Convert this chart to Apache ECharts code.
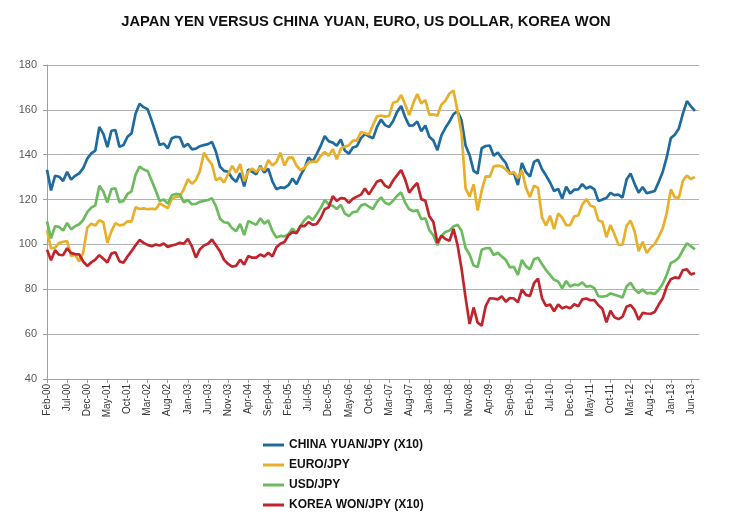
<!DOCTYPE html>
<html><head><meta charset="utf-8">
<script src="https://cdn.jsdelivr.net/npm/echarts@6/dist/echarts.min.js"></script>
<style>html,body{margin:0;padding:0;background:#fff}#c{width:732px;height:531px}</style>
</head><body><div id="c"></div>
<script>
// Month-end values, Feb-2000 .. Jul-2013
const monthNames = ['Jan','Feb','Mar','Apr','May','Jun','Jul','Aug','Sep','Oct','Nov','Dec'];
const categories = [];
for (let y = 2000, m = 1; !(y === 2013 && m === 7); ) {
  categories.push(monthNames[m] + '-' + String(y % 100).padStart(2, '0'));
  m++; if (m === 12) { m = 0; y++; }
}
categories.push('Jul-13');

const seriesNames = ['CHINA YUAN/JPY (X10)', 'EURO/JPY', 'USD/JPY', 'KOREA WON/JPY (X10)'];

const cnyJpy = [
  133.3,124.1,130.6,130.2,128.3,132.4,128.9,130.6,131.7,134.0,138.2,
  140.6,141.8,152.4,149.3,143.4,150.7,151.0,143.5,144.3,148.0,149.5,158.3,
  162.7,161.2,160.3,155.3,149.8,144.3,145.0,142.8,147.3,148.0,147.8,143.5,
  144.9,142.4,142.7,143.8,144.3,144.7,145.7,141.2,134.6,132.8,132.4,129.5,
  127.9,131.8,125.9,133.4,132.4,131.3,135.0,132.1,133.7,128.1,124.6,125.4,
  125.2,126.4,129.4,126.9,130.8,134.0,138.8,136.9,140.3,143.9,148.3,146.0,
  145.4,144.0,146.8,141.9,140.4,143.2,143.8,147.4,149.2,148.2,147.3,152.4,
  155.7,153.2,152.4,155.0,159.1,161.7,156.7,153.0,153.1,154.8,150.5,153.0,
  148.0,146.3,142.0,148.6,152.0,154.8,158.1,159.3,155.3,144.1,139.8,132.8,
  131.6,142.9,143.9,144.1,139.5,141.0,138.5,136.3,131.5,131.8,126.5,136.3,
  132.2,130.2,136.8,137.8,133.5,130.7,127.6,123.8,124.8,120.5,125.7,122.7,
  124.4,124.5,126.9,124.9,125.8,124.6,119.4,120.0,120.7,123.0,122.0,122.2,
  120.9,128.9,131.6,127.0,123.1,125.6,122.8,123.3,123.8,127.9,132.4,139.0,
  147.4,148.9,151.7,158.3,163.9,161.6,159.5
];
const eurJpy = [
  106.3,98.2,98.6,100.7,101.2,101.5,94.8,95.5,92.4,96.4,107.5,
  109.2,108.4,110.8,109.9,100.7,105.9,109.5,108.5,108.8,110.3,110.2,116.6,
  115.8,116.1,115.7,115.9,115.7,118.3,117.2,116.2,120.3,121.2,121.4,124.6,
  129.1,127.1,128.7,132.8,140.9,137.9,135.6,128.5,129.8,127.6,131.4,135.0,
  132.0,135.8,128.2,132.3,133.9,132.3,134.4,133.1,137.6,135.2,136.8,140.9,
  135.1,138.7,138.8,135.1,133.2,134.2,136.6,136.9,136.8,139.4,141.2,139.5,
  142.5,138.0,142.7,143.6,144.2,146.3,146.3,150.1,149.6,149.0,153.3,157.1,
  157.5,157.0,157.3,163.2,163.7,166.6,162.4,157.7,162.9,167.1,162.8,164.4,
  157.9,158.0,157.4,162.4,164.1,167.3,168.6,159.6,149.5,125.0,121.3,126.8,
  115.1,124.0,130.3,130.2,134.8,135.1,134.8,133.4,131.5,132.3,129.6,133.1,
  125.2,121.1,126.2,125.2,111.9,108.4,112.8,106.8,113.8,112.0,108.6,108.6,
  112.5,112.9,117.7,120.3,117.4,116.7,110.7,110.1,103.2,108.7,104.5,99.8,
  99.9,108.3,110.6,105.9,97.0,101.2,96.2,98.6,100.2,103.5,107.3,114.2,
  124.5,121.0,120.8,128.4,130.7,129.1,130.1
];
const usdJpy = [
  110.3,102.7,108.1,107.8,106.2,109.6,106.7,108.1,109.0,110.9,114.4,
  116.4,117.4,126.1,123.6,118.7,124.7,125.0,118.8,119.4,122.5,123.7,131.0,
  134.7,133.4,132.7,128.5,124.0,119.4,120.0,118.2,121.9,122.5,122.3,118.8,
  119.9,117.9,118.1,119.0,119.4,119.8,120.6,116.9,111.4,109.9,109.6,107.2,
  105.9,109.1,104.2,110.4,109.6,108.7,111.7,109.3,110.7,106.0,103.1,103.8,
  103.6,104.6,107.1,105.0,108.3,110.9,112.6,110.9,113.5,116.3,119.8,117.8,
  117.2,115.8,117.7,113.8,112.6,114.4,114.6,117.3,118.0,116.8,115.8,119.0,
  121.0,118.6,117.8,119.5,121.7,123.2,118.6,115.7,114.8,115.3,111.2,111.7,
  106.4,104.0,99.7,103.9,105.5,106.2,108.0,108.8,106.1,98.4,95.5,90.6,
  89.9,97.6,98.3,98.4,95.3,96.3,94.6,93.1,89.8,90.0,86.4,93.1,
  90.3,88.9,93.4,94.1,91.2,88.6,86.4,84.2,83.5,80.4,83.7,81.2,
  82.1,81.8,83.1,81.2,81.5,80.5,76.9,76.7,77.0,78.2,77.6,77.0,
  76.3,81.2,82.9,80.0,78.4,79.9,78.2,78.4,77.9,79.8,82.5,86.6,
  91.7,92.6,94.2,97.5,100.5,99.2,97.8
];
const krwJpy = [
  97.6,92.9,97.4,95.4,95.2,98.3,96.1,95.7,95.6,92.4,90.4,
  92.0,93.2,95.2,93.6,92.0,95.9,96.5,92.5,91.8,94.6,97.0,99.6,
  102.0,100.7,99.8,99.2,100.0,99.5,100.4,98.9,99.5,100.0,100.7,100.3,
  102.5,99.1,94.1,97.9,99.5,100.3,102.2,99.5,96.9,93.1,91.3,90.1,
  90.5,93.2,91.0,94.8,94.1,94.1,95.5,94.6,96.3,94.6,98.7,100.3,
  101.1,104.1,105.5,105.0,108.3,108.2,109.9,108.7,109.1,111.8,115.7,116.6,
  121.5,119.4,120.7,120.4,118.5,120.4,121.3,122.2,124.9,122.3,125.2,128.0,
  128.7,126.2,125.3,128.5,130.9,133.2,128.9,123.1,125.5,127.4,120.2,119.5,
  112.6,110.0,100.7,103.9,102.4,101.6,106.9,99.8,89.2,76.3,64.5,71.9,
  65.1,63.8,72.5,76.0,75.9,75.5,76.9,74.5,76.1,75.9,74.2,79.9,
  77.5,77.0,82.7,84.8,76.0,72.6,73.2,70.2,73.2,71.5,72.2,71.5,
  73.3,72.4,75.5,75.9,75.1,75.2,72.9,71.3,65.3,70.5,67.5,66.7,
  67.8,72.2,73.0,70.8,66.4,69.5,69.2,69.1,69.9,73.2,76.0,81.3,
  84.5,85.3,84.9,88.6,88.9,86.6,87.3
];
const yTicks = { min: 40, max: 180, interval: 20 };

const colors = ['#1f6b9e', '#e8b02a', '#6cbb5f', '#c0242c'];
const seriesData = [cnyJpy, eurJpy, usdJpy, krwJpy];

const chart = echarts.init(document.getElementById('c'), null, { renderer: 'canvas' });
chart.setOption({
  animation: false,
  backgroundColor: '#ffffff',
  title: {
    text: 'JAPAN YEN VERSUS CHINA YUAN, EURO, US DOLLAR, KOREA WON',
    left: 'center', top: 9,
    textStyle: { fontFamily: 'Liberation Sans, Arial, sans-serif', fontSize: 14.7, fontWeight: 'bold', color: '#111' }
  },
  legend: {
    orient: 'vertical', left: 258, top: 433,
    itemWidth: 21, itemHeight: 3, itemGap: 6, icon: 'rect',
    data: seriesNames,
    textStyle: { fontFamily: 'Liberation Sans, Arial, sans-serif', fontSize: 12, fontWeight: 'bold', color: '#111', lineHeight: 14 }
  },
  grid: { left: 47, right: 33, top: 65, bottom: 152, containLabel: false, outerBoundsMode: 'none' },
  xAxis: {
    type: 'category', data: categories, boundaryGap: false,
    axisLine: { show: true, lineStyle: { color: '#a0a0a0', width: 1 } },
    axisTick: { show: true, interval: 4, length: 4, lineStyle: { color: '#a0a0a0' } },
    axisLabel: { interval: 4, rotate: 90, margin: 5, fontSize: 10, color: '#383838',
      fontFamily: 'Liberation Sans Narrow, Liberation Sans, Arial, sans-serif' },
    splitLine: { show: false }
  },
  yAxis: {
    type: 'value', min: yTicks.min, max: yTicks.max, interval: yTicks.interval,
    axisLine: { show: true, lineStyle: { color: '#a0a0a0', width: 1 } },
    axisTick: { show: true, length: 4, lineStyle: { color: '#a0a0a0' } },
    axisLabel: { margin: 10, fontSize: 11, color: '#595959', fontFamily: 'Liberation Sans, Arial, sans-serif' },
    splitLine: { show: true, lineStyle: { color: '#b3b3b3', width: 1 } }
  },
  series: seriesNames.map((n, k) => ({
    name: n, type: 'line', data: seriesData[k], showSymbol: false, symbol: 'none',
    lineStyle: { color: colors[k], width: 2.7 }, itemStyle: { color: colors[k] },
    z: 2 + k
  }))
});
</script></body></html>
